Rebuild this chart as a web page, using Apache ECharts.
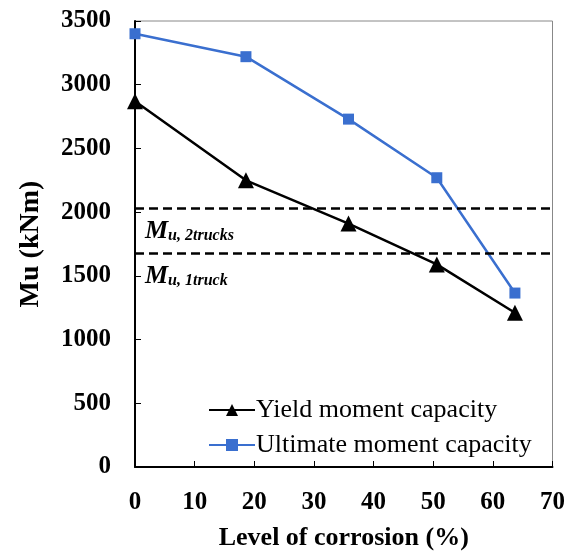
<!DOCTYPE html>
<html>
<head>
<meta charset="utf-8">
<script src="https://cdn.jsdelivr.net/npm/echarts@6/dist/echarts.min.js"></script>
<style>
  html, body { margin: 0; padding: 0; background: #fff; }
  #chart { width: 568px; height: 556px; }
</style>
</head>
<body>
<div id="chart"></div>
<script>
// corrosion level (%) and moment capacities (kNm)
const corrosion = [0, 18.6, 35.8, 50.6, 63.7]
const yieldMoment = [2870, 2250, 1910, 1590, 1210]
const ultimateMoment = [3400, 3220, 2730, 2270, 1365]
const mu2trucks = 2030
const mu1truck = 1680

const serif = '"Liberation Serif", "DejaVu Serif", serif'
const pair = (xs, ys) => xs.map((x, i) => [x, ys[i]])

const refLabel = (sub) => ({
  show: true,
  position: 'insideStartBottom',
  distance: 10,
  formatter: '{m|M}{s|' + sub + '}',
  rich: {
    m: { fontFamily: serif, fontStyle: 'italic', fontWeight: 'bold', fontSize: 26, color: '#000' },
    s: { fontFamily: serif, fontStyle: 'italic', fontWeight: 'bold', fontSize: 16, color: '#000', padding: [10, 0, 0, 0] }
  }
})

const chart = echarts.init(document.getElementById('chart'))
chart.setOption({
  animation: false,
  textStyle: { fontFamily: serif },
  grid: {
    left: 135, right: 11, top: 21, bottom: 84,
    show: true, borderColor: '#888', borderWidth: 1
  },
  legend: {
    orient: 'vertical',
    left: 203, top: 392,
    itemWidth: 46, itemHeight: 15, itemGap: 9,
    textStyle: { fontFamily: serif, fontSize: 26, color: '#000', padding: [0, 0, 0, -4] },
    data: ['Yield moment capacity', 'Ultimate moment capacity']
  },
  xAxis: {
    type: 'value', min: 0, max: 70, interval: 10,
    name: 'Level of corrosion (%)', nameLocation: 'middle', nameGap: 58,
    nameTextStyle: { fontFamily: serif, fontWeight: 'bold', fontSize: 26, color: '#000' },
    axisLine: { lineStyle: { color: '#000', width: 2 } },
    axisTick: { inside: true, length: 6, lineStyle: { color: '#000', width: 1 } },
    axisLabel: { fontFamily: serif, fontWeight: 'bold', fontSize: 25, color: '#000', margin: 23 },
    splitLine: { show: false }
  },
  yAxis: {
    type: 'value', min: 0, max: 3500, interval: 500,
    name: 'Mu (kNm)', nameLocation: 'middle', nameGap: 90, nameRotate: 90,
    nameTextStyle: { fontFamily: serif, fontWeight: 'bold', fontSize: 28, color: '#000' },
    axisLine: { show: true, lineStyle: { color: '#000', width: 2 } },
    axisTick: { show: true, inside: true, length: 6, lineStyle: { color: '#000', width: 1 } },
    axisLabel: { fontFamily: serif, fontWeight: 'bold', fontSize: 25, color: '#000', margin: 24, formatter: (v) => String(v) },
    splitLine: { show: false }
  },
  series: [
    {
      name: 'Yield moment capacity',
      type: 'line',
      data: pair(corrosion, yieldMoment),
      symbol: 'triangle', symbolSize: 16,
      lineStyle: { color: '#000', width: 2.5 },
      itemStyle: { color: '#000' },
      z: 3,
      markLine: {
        silent: true, symbol: 'none',
        lineStyle: { color: '#000', type: [9, 5], width: 2.5 },
        data: [
          { yAxis: mu2trucks, label: refLabel('u, 2trucks') },
          { yAxis: mu1truck, label: refLabel('u, 1truck') }
        ]
      }
    },
    {
      name: 'Ultimate moment capacity',
      type: 'line',
      data: pair(corrosion, ultimateMoment),
      symbol: 'rect', symbolSize: 11,
      lineStyle: { color: '#3a6fcf', width: 2.5 },
      itemStyle: { color: '#3a6fcf' },
      z: 4
    }
  ]
})
</script>
</body>
</html>
